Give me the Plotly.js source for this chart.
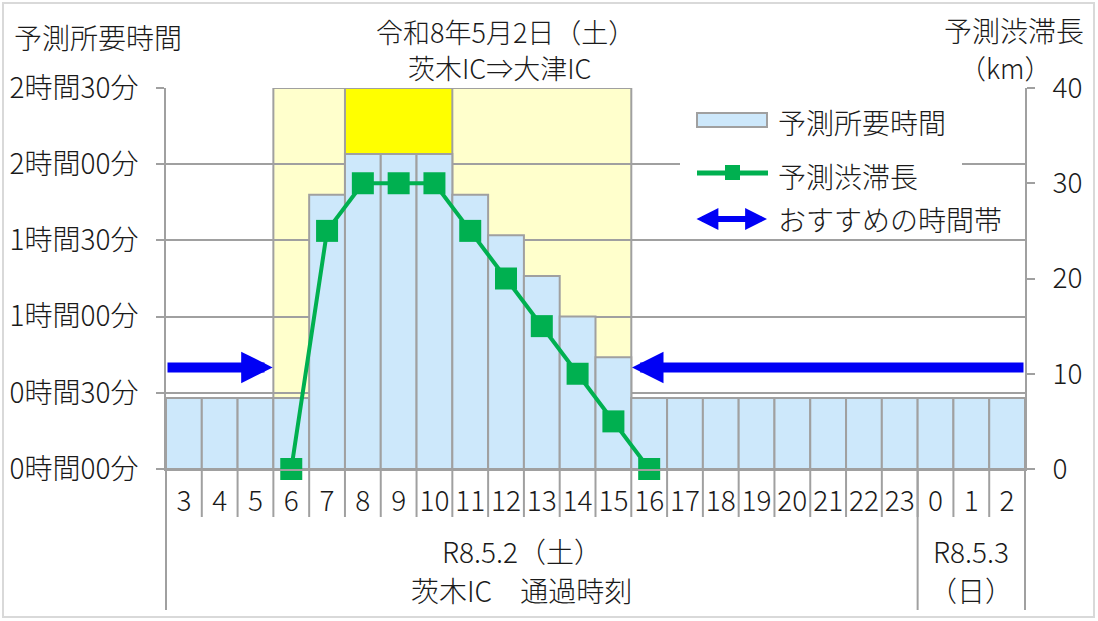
<!DOCTYPE html>
<html>
<head>
<meta charset="utf-8">
<script src="https://cdn.plot.ly/plotly-3.0.1.min.js"></script>
<style>
  html, body { margin: 0; padding: 0; background: #fff; }
  #chart { width: 1098px; height: 621px; }
</style>
</head>
<body>
<div id="chart"></div>
<script>
// data
var hours = ['3', '4', '5', '6', '7', '8', '9', '10', '11', '12', '13', '14', '15', '16',
             '17', '18', '19', '20', '21', '22', '23', '0', '1', '2'];
var travelMin = [28, 28, 28, 28, 108, 124, 124, 124, 108, 92, 76, 60, 44, 28,
                 28, 28, 28, 28, 28, 28, 28, 28, 28, 28];
var jamKm = [null, null, null, 0, 25, 30, 30, 30, 25, 20, 15, 10, 5, 0,
             null, null, null, null, null, null, null, null, null, null];

var timeTickVals = [0, 30, 60, 90, 120, 150];
var timeTickText = ['0時間00分', '0時間30分', '1時間00分', '1時間30分', '2時間00分', '2時間30分'];
var kmTickVals = [0, 10, 20, 30, 40];

var jamHours = ['6', '15'];          // light yellow band
var peakHours = ['8', '10'];         // bright yellow band
var goodBefore = ['3', '5'];         // おすすめ (arrow points right)
var goodAfter = ['16', '2'];         // おすすめ (arrow points left)

var groupLine1 = ['R8.5.2（土）', 'R8.5.3'];
var groupLine2 = ['茨木IC　通過時刻', '（日）'];
var groupFrom = ['3', '0'];
var groupTo = ['23', '2'];

var FONT = '"Noto Sans CJK JP", "Noto Sans", sans-serif';
var W = 300;
var GRAY = '#a0a0a0';
var TXT = '#1a1a1a';
var BLUE = '#0000f5';
var GREEN = '#00b050';

// plot box in pixels
var L = 166, R = 1025, T = 88, B = 469;
function px(x) { return (x - L) / (R - L); }
function py(y) { return (B - y) / (B - T); }
function idx(h) { return hours.indexOf(h); }
function edge(b) { return (b + 0.5) / hours.length; } // category boundary -> paper x

var xs = hours.map(function (h, i) { return i; });

var bars = {
  type: 'bar', x: xs, y: travelMin, width: 1,
  marker: { color: '#cde8fb', line: { color: GRAY, width: 2 } },
  hoverinfo: 'skip'
};
var jam = {
  type: 'scatter', mode: 'lines+markers', x: xs, y: jamKm, yaxis: 'y2',
  line: { color: GREEN, width: 4 },
  marker: { symbol: 'square', size: 22, color: GREEN },
  connectgaps: false, cliponaxis: false, hoverinfo: 'skip'
};

var shapes = [
  { type: 'rect', xref: 'x', yref: 'y', layer: 'below',
    x0: idx(jamHours[0]) - 0.5, x1: idx(jamHours[1]) + 0.5, y0: 0, y1: 150,
    fillcolor: '#ffffcc', line: { color: GRAY, width: 2 } },
  { type: 'rect', xref: 'x', yref: 'y', layer: 'below',
    x0: idx(peakHours[0]) - 0.5, x1: idx(peakHours[1]) + 0.5, y0: 0, y1: 150,
    fillcolor: '#ffff00', line: { color: GRAY, width: 2 } }
];

// table lines under the axis
for (var b = 0; b <= hours.length; b++) {
  shapes.push({ type: 'line', xref: 'paper', yref: 'paper',
    x0: b / hours.length, x1: b / hours.length, y0: 0, y1: py(517),
    line: { color: GRAY, width: 2 } });
}
var groupEdges = [-0.5];
groupTo.forEach(function (h) { groupEdges.push(idx(h) + 0.5); });
groupEdges.forEach(function (e) {
  shapes.push({ type: 'line', xref: 'paper', yref: 'paper',
    x0: edge(e), x1: edge(e), y0: 0, y1: py(610),
    line: { color: GRAY, width: 2 } });
});

// outer frame
shapes.push({ type: 'rect', xref: 'paper', yref: 'paper',
  x0: px(3), x1: px(1094), y0: py(617), y1: py(3),
  line: { color: '#d9d9d9', width: 2 } });

// legend
shapes.push({ type: 'rect', xref: 'paper', yref: 'paper', layer: 'above',
  x0: px(680), x1: px(962), y0: py(236), y1: py(97),
  fillcolor: '#ffffff', line: { width: 0 } });
shapes.push({ type: 'rect', xref: 'paper', yref: 'paper', layer: 'above',
  x0: px(697), x1: px(767), y0: py(127), y1: py(113),
  fillcolor: '#cde8fb', line: { color: GRAY, width: 2 } });
shapes.push({ type: 'line', xref: 'paper', yref: 'paper', layer: 'above',
  x0: px(697), x1: px(768), y0: py(173), y1: py(173),
  line: { color: GREEN, width: 5 } });
shapes.push({ type: 'rect', xref: 'paper', yref: 'paper', layer: 'above',
  x0: px(725), x1: px(740), y0: py(180), y1: py(165),
  fillcolor: GREEN, line: { width: 0 } });

function label(text, x, y, anchor, size) {
  return { text: text, xref: 'paper', yref: 'paper', x: px(x), y: py(y),
    xanchor: anchor || 'center', yanchor: 'middle', showarrow: false,
    font: { family: FONT, size: size || 28, color: TXT, weight: W } };
}

var annotations = [
  label('予測所要時間', 98, 37),
  label('予測渋滞長', 1014, 30),
  label('（km）', 1005, 67, 'center', 27),
  label('令和8年5月2日（土）', 505, 32, 'center', 27),
  label('茨木IC⇒大津IC', 500, 67, 'center', 27),
  label('予測所要時間', 776, 122, 'left'),
  label('予測渋滞長', 776, 176, 'left'),
  label('おすすめの時間帯', 776, 219, 'left')
];

groupLine1.forEach(function (t, i) {
  var c = (idx(groupFrom[i]) + idx(groupTo[i])) / 2;
  var shift = i === 0 ? -20 : 0;
  annotations.push({ text: t, xref: 'paper', yref: 'paper', x: edge(c), y: py(551),
    xshift: shift, xanchor: 'center', yanchor: 'middle', showarrow: false,
    font: { family: FONT, size: 28, color: TXT, weight: W } });
  annotations.push({ text: groupLine2[i], xref: 'paper', yref: 'paper', x: edge(c), y: py(590),
    xshift: shift, xanchor: 'center', yanchor: 'middle', showarrow: false,
    font: { family: FONT, size: 28, color: TXT, weight: W } });
});

// recommended-time arrows
annotations.push({ text: '', xref: 'x', yref: 'y', axref: 'x', ayref: 'y',
  x: idx(goodBefore[1]) + 0.48, y: 40, ax: idx(goodBefore[0]) - 0.5, ay: 40,
  showarrow: true, arrowhead: 2, arrowwidth: 10, arrowsize: 0.63, arrowcolor: BLUE });
annotations.push({ text: '', xref: 'x', yref: 'y', axref: 'x', ayref: 'y',
  x: idx(goodAfter[0]) - 0.48, y: 40, ax: idx(goodAfter[1]) + 0.5, ay: 40,
  showarrow: true, arrowhead: 2, arrowwidth: 10, arrowsize: 0.63, arrowcolor: BLUE });
// legend double arrow
annotations.push({ text: '', xref: 'paper', yref: 'paper', x: px(767), y: py(219),
  ax: -72, ay: 0, showarrow: true, arrowside: 'end+start',
  arrowhead: 2, startarrowhead: 2, arrowwidth: 6, arrowsize: 0.73, startarrowsize: 0.73,
  arrowcolor: BLUE });

var tickFont = { family: FONT, size: 28, color: TXT, weight: W };

var layout = {
  width: 1098, height: 621, autosize: false,
  margin: { l: L, r: 1098 - R, t: T, b: 621 - B, pad: 0 },
  paper_bgcolor: '#ffffff', plot_bgcolor: '#ffffff',
  showlegend: false, bargap: 0,
  font: { family: FONT, size: 28, color: TXT },
  xaxis: {
    range: [-0.5, hours.length - 0.5], tickvals: xs, ticktext: hours,
    ticks: '', showgrid: false, zeroline: false,
    showline: true, linecolor: GRAY, linewidth: 2,
    ticklabelstandoff: 6, tickfont: tickFont
  },
  yaxis: {
    range: [0, 150], tickvals: timeTickVals, ticktext: timeTickText,
    showgrid: true, gridcolor: GRAY, gridwidth: 2, zeroline: false,
    showline: true, linecolor: GRAY, linewidth: 2,
    ticks: 'outside', ticklen: 8, tickwidth: 2, tickcolor: GRAY,
    ticklabelstandoff: 12, tickfont: tickFont
  },
  yaxis2: {
    overlaying: 'y', side: 'right', range: [0, 40], tickvals: kmTickVals,
    showgrid: false, zeroline: false,
    showline: true, linecolor: GRAY, linewidth: 2,
    ticks: 'outside', ticklen: 8, tickwidth: 2, tickcolor: GRAY,
    ticklabelstandoff: 12, tickfont: tickFont
  },
  shapes: shapes,
  annotations: annotations
};

Plotly.newPlot('chart', [bars, jam], layout, { displayModeBar: false, staticPlot: true });
</script>
</body>
</html>
